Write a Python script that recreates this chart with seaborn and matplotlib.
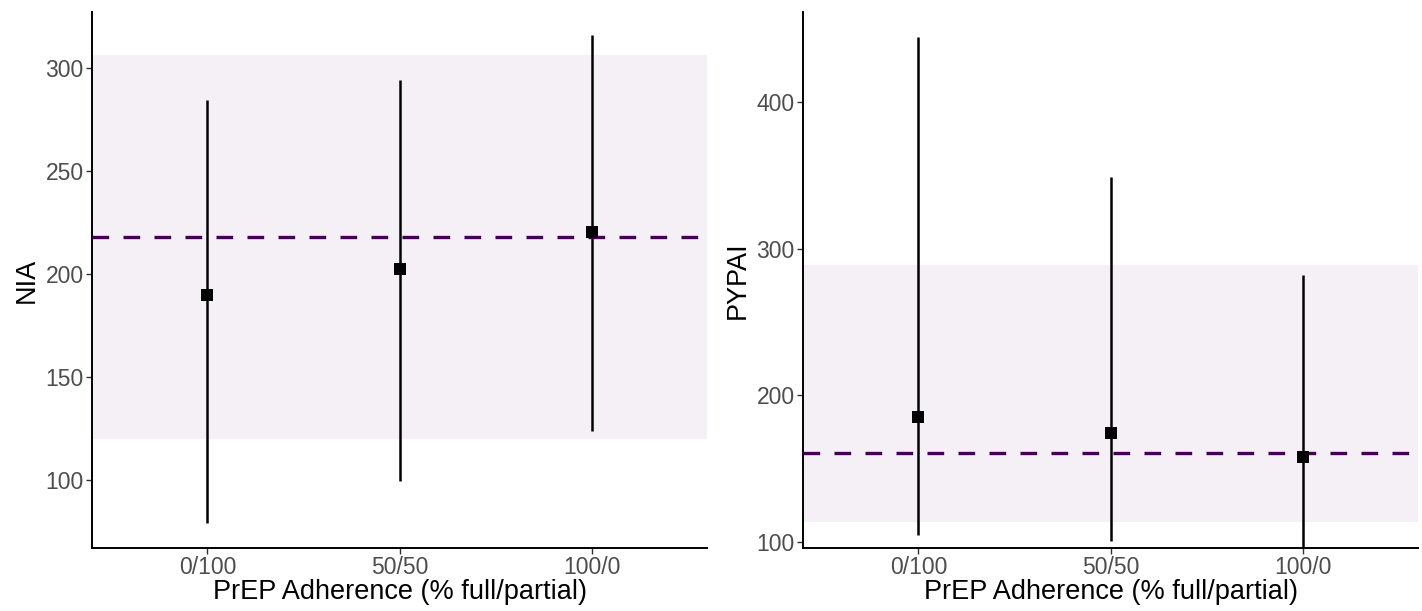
import matplotlib
matplotlib.use("Agg")
import matplotlib.pyplot as plt
import seaborn as sns
import pandas as pd

categories = ["0/100", "50/50", "100/0"]

nia_est = [190, 202.5, 220.5]
nia_lo = [79, 99.5, 124]
nia_hi = [284.5, 294, 316]
nia_ref = 218
nia_band = (120, 306)
nia_ticks = [100, 150, 200, 250, 300]

pypai_est = [185, 174, 158]
pypai_lo = [105, 100.5, 95.5]
pypai_hi = [444, 349, 282]
pypai_ref = 161
pypai_band = (114, 289)
pypai_ticks = [100, 200, 300, 400]

sns.set_theme(style="ticks")
plt.rcParams['font.family'] = ['Liberation Sans', 'DejaVu Sans']

fig = plt.figure(figsize=(14.22, 6.11), dpi=100)
axL = fig.add_axes([0.0647, 0.1031, 0.4325, 0.877])
axR = fig.add_axes([0.5647, 0.1031, 0.4325, 0.877])

def panel(ax, est, lo, hi, ref, band, ticks, ylim, ylabel):
    df = pd.DataFrame({"x": range(len(categories)), "est": est, "lo": lo, "hi": hi})
    ax.axhspan(band[0], band[1], color="#F4F0F5", zorder=0, lw=0)
    ax.vlines(df["x"], df["lo"], df["hi"], color="black", lw=1.8, zorder=2)
    ax.axhline(ref, color="#440154", lw=2.4, dashes=(5, 4.3), zorder=3)
    sns.scatterplot(data=df, x="x", y="est", marker="s", s=85, color="black",
                    edgecolor="black", linewidth=0, ax=ax, zorder=4)
    ax.set_xlim(-0.6, 2.6)
    ax.set_ylim(*ylim)
    ax.set_xticks(range(len(categories)))
    ax.set_xticklabels(categories)
    ax.set_yticks(ticks)
    ax.set_xlabel("PrEP Adherence (% full/partial)", fontsize=19.5, color="black", labelpad=0)
    ax.set_ylabel(ylabel, fontsize=19.5, color="black", labelpad=4)
    ax.tick_params(axis="both", labelsize=16.5, labelcolor="#4D4D4D", color="#333333",
                   length=4, width=1, pad=2)
    for s in ["top", "right"]:
        ax.spines[s].set_visible(False)
    for s in ["left", "bottom"]:
        ax.spines[s].set_color("black")
        ax.spines[s].set_linewidth(1.4)
    ax.set_facecolor("white")

panel(axL, nia_est, nia_lo, nia_hi, nia_ref, nia_band, nia_ticks, (67, 327), "NIA")
panel(axR, pypai_est, pypai_lo, pypai_hi, pypai_ref, pypai_band, pypai_ticks, (96, 461), "PYPAI")

fig.savefig("out.png", dpi=100, facecolor="white")
